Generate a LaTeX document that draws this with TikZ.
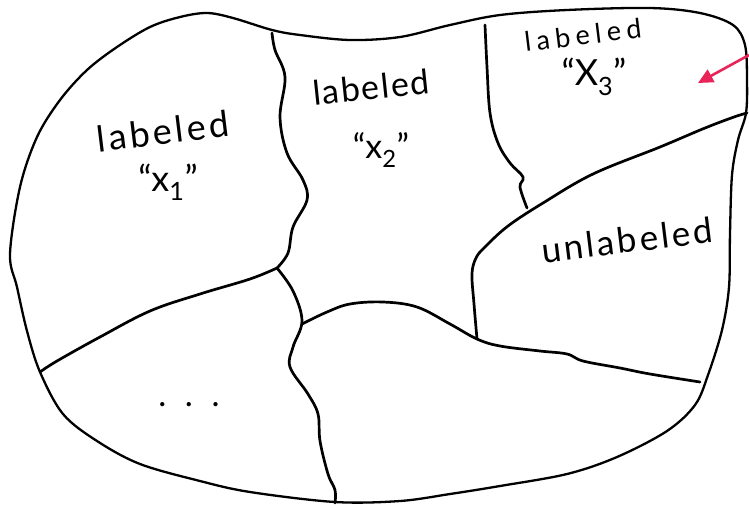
\documentclass[tikz,border=0pt]{standalone}
\usepackage{fontspec}
\setmainfont{Lato}
\usetikzlibrary{arrows.meta}
\definecolor{penred}{RGB}{232,36,88}
\begin{document}
\begin{tikzpicture}[x=1pt,y=-1pt,
  outline/.style={line width=2.3pt,line cap=round,line join=round},
  wall/.style={line width=2.7pt,line cap=round,line join=round},
  lab/.style={inner sep=0pt,text=black}]
\useasboundingbox (0,0) rectangle (749,507);
% outer boundary
\draw[outline] plot[smooth cycle,tension=0.55] coordinates {
 (10,254) (20,187) (37,137) (60,100) (87,70) (117,47) (150,27) (180,17) (207,13) (233,18)
 (272,30) (300,35) (350,40) (400,37) (450,25) (500,15) (567,10) (650,8) (700,13) (733,25)
 (745,45) (747,80) (746,113) (738,140) (732,175) (730,233) (729,287) (722,330) (708,375)
 (695,405) (667,431) (617,457) (567,474) (500,486) (450,494) (400,501) (335,502) (250,492)
 (200,481) (140,464) (97,441) (63,414) (40,372) (27,331) (17,287)};
% divider between x1 and x2
\draw[wall] plot[smooth,tension=0.6] coordinates {
 (272,33) (275,50) (285,77) (280,117) (287,153) (303,180) (307,200) (293,227) (288,253) (277,268)};
% lower-left divider
\draw[wall] plot[smooth,tension=0.6] coordinates {
 (40,372) (57,361) (100,337) (150,311) (200,294) (250,279) (277,268)};
% central vertical divider
\draw[wall] plot[smooth,tension=0.6] coordinates {
 (277,268) (293,291) (302,321) (293,347) (290,367) (308,394) (318,414) (320,441) (328,474) (335,490) (335,503)};
% hump and lower-right divider
\draw[wall] plot[smooth,tension=0.6] coordinates {
 (302,324) (327,312) (350,304) (383,302) (417,307) (450,324) (477,339) (500,346) (540,351)
 (567,354) (583,361) (620,368) (650,374) (700,382)};
% unlabeled region: left side and top
\draw[wall] plot[smooth,tension=0.6] coordinates {
 (477,339) (474,304) (472,274) (476,258) (485,247) (508,226) (543,203) (593,174) (660,147)
 (705,128) (734,117) (747,113)};
% divider between x2 and x3
\draw[wall] plot[smooth,tension=0.6] coordinates {
 (485,25) (487,67) (490,113) (498,143) (510,163) (523,177) (520,187) (527,208)};
% red arrow
\coordinate (arrTail) at (749,55);
\coordinate (arrTip) at (698,83);
\draw[penred,line width=2.6pt,-{Triangle[length=15pt,width=14pt]}] (arrTail) -- (arrTip);
% labels
\node[lab,rotate=7,font=\fontsize{36}{40}\selectfont\addfontfeature{LetterSpace=9}] (l1) at (163,131) {labeled};
\node[lab,font=\fontsize{36}{40}\selectfont] (q1) at (168,182) {“x\textsubscript{1}”};
\node[lab,rotate=6,font=\fontsize{34}{38}\selectfont\addfontfeature{LetterSpace=5}] (l2) at (371,87) {labeled};
\node[lab,font=\fontsize{34}{38}\selectfont] (q2) at (381,150) {“x\textsubscript{2}”};
\node[lab,rotate=7,font=\fontsize{27}{30}\selectfont\addfontfeature{LetterSpace=20}] (l3) at (583,35) {labeled};
\node[lab,font=\fontsize{36}{40}\selectfont] (q3) at (594,77) {“X\textsubscript{3}”};
\node[lab,rotate=7,font=\fontsize{35}{40}\selectfont\addfontfeature{LetterSpace=8}] (l4) at (627,240) {unlabeled};
% dots
\node[lab,font=\fontsize{34}{38}\selectfont] (dots) at (189,405) {.\hspace{0.55em}.\hspace{0.55em}.};
\end{tikzpicture}
\end{document}
